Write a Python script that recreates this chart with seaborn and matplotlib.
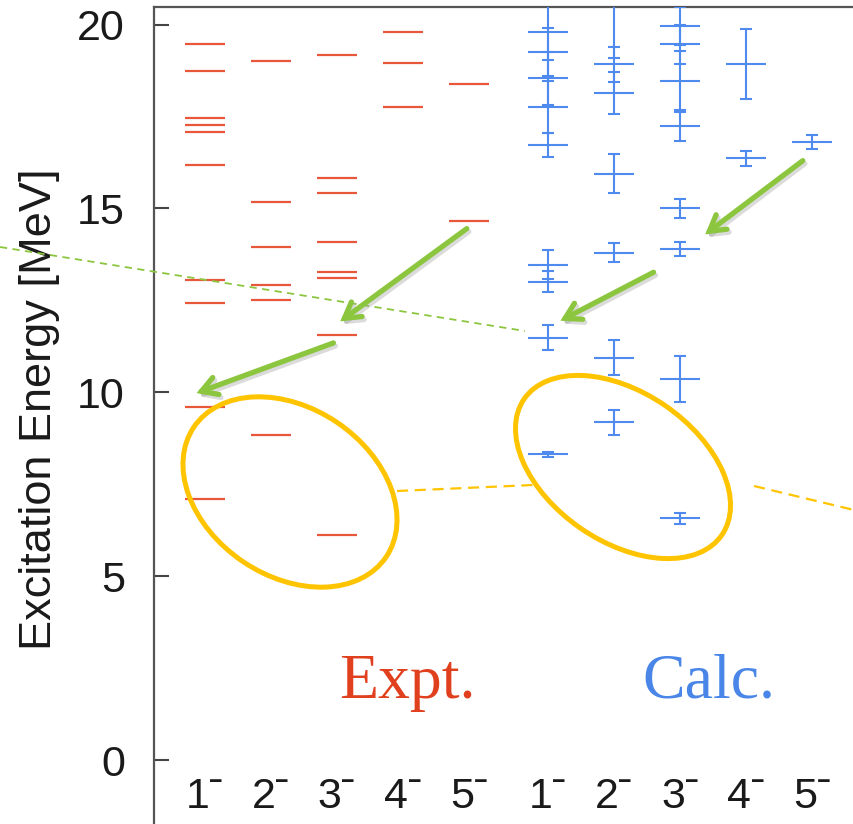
import numpy as np
import pandas as pd
import matplotlib
matplotlib.use("Agg")
import matplotlib.pyplot as plt
import seaborn as sns
from matplotlib.patches import Ellipse, FancyArrowPatch
from matplotlib.lines import Line2D
from matplotlib.transforms import Affine2D

# ---------------- data ----------------
spin_labels = ["1", "2", "3", "4", "5"]
tick_labels = [s + "\u02c9" for s in spin_labels] * 2

expt_pos = [1, 2, 3, 4, 5]
calc_pos = [6.2, 7.2, 8.2, 9.2, 10.2]

expt_1 = [19.47, 18.75, 17.47, 17.26, 17.07, 16.19, 13.06, 12.44, 9.59, 7.11]
expt_2 = [19.00, 15.17, 13.96, 12.93, 12.52, 8.84]
expt_3 = [19.17, 15.82, 15.42, 14.09, 13.27, 13.10, 11.57, 6.12]
expt_4 = [19.79, 18.96, 17.76]
expt_5 = [18.38, 14.67]

calc_1 = [19.79, 19.25, 18.54, 17.76, 16.73, 13.47, 13.01, 11.49, 8.31]
calc_1_err = [0.74, 0.65, 0.72, 0.71, 0.33, 0.39, 0.28, 0.33, 0.07]
calc_2 = [21.00, 18.92, 18.14, 15.95, 13.80, 10.94, 9.18]
calc_2_err = [1.91, 0.48, 0.56, 0.53, 0.26, 0.48, 0.34]
calc_3 = [19.96, 19.47, 18.47, 17.23, 15.00, 13.89, 10.37, 6.57]
calc_3_err = [0.52, 0.53, 0.80, 0.40, 0.27, 0.19, 0.62, 0.14]
calc_4 = [18.92, 16.36]
calc_4_err = [0.95, 0.20]
calc_5 = [16.81]
calc_5_err = [0.20]

expt_sets = [expt_1, expt_2, expt_3, expt_4, expt_5]
calc_sets = [calc_1, calc_2, calc_3, calc_4, calc_5]
calc_errs = [calc_1_err, calc_2_err, calc_3_err, calc_4_err, calc_5_err]

expt_df = pd.DataFrame({
    "x": np.concatenate([[p] * len(v) for p, v in zip(expt_pos, expt_sets)]),
    "E": np.concatenate(expt_sets),
})
calc_df = pd.DataFrame({
    "x": np.concatenate([[p] * len(v) for p, v in zip(calc_pos, calc_sets)]),
    "E": np.concatenate(calc_sets),
    "err": np.concatenate(calc_errs),
})

RED = "#E8573A"
BLUE = "#4F8AEE"
GREEN = "#8CC63F"
YELLOW = "#FFC400"

# ---------------- style ----------------
sns.set_theme(style="white")
plt.rcParams["font.family"] = ["Liberation Sans", "DejaVu Sans"]

W, H = 854, 824
fig = plt.figure(figsize=(W / 100, H / 100), dpi=100)
fig.patch.set_facecolor("white")
ax = fig.add_axes([154 / W, 0.0, 700 / W, 817 / H])

# Expt levels (horizontal ticks)
sns.scatterplot(data=expt_df, x="x", y="E", marker="_", s=870, linewidth=1.6,
                color=RED, ax=ax, legend=False, zorder=3)
# Calc levels with error bars
ax.errorbar(calc_df["x"], calc_df["E"], yerr=calc_df["err"], fmt="none",
            ecolor=BLUE, elinewidth=1.5, capsize=4.3, capthick=1.5, zorder=3)
sns.scatterplot(data=calc_df, x="x", y="E", marker="_", s=870, linewidth=1.5,
                color=BLUE, ax=ax, legend=False, zorder=3)

ax.set_xlim(0.2273, 1 + (854 - 205) / 66)
ax.set_ylim(-1.74, 20.48)
ax.set_yticks([0, 5, 10, 15, 20])
ax.set_xticks(expt_pos + calc_pos)
ax.set_xticklabels(tick_labels)
ax.tick_params(axis="y", direction="in", length=11, width=1.5, color="#444444",
               pad=21, labelsize=31, labelcolor="#1a1a1a", left=True, right=False)
ax.tick_params(axis="x", length=0, pad=-34, labelsize=31, labelcolor="#1a1a1a",
               top=False, bottom=True)
ax.set_xlabel("")
ax.set_ylabel("Excitation Energy [MeV]", fontsize=32.5, color="#1a1a1a")
ax.yaxis.set_label_coords(-0.134, 0.508)
for side in ["right", "bottom"]:
    ax.spines[side].set_visible(False)
for side in ["left", "top"]:
    ax.spines[side].set_color("#555555")
    ax.spines[side].set_linewidth(1.6)
ax.grid(False)

fig.text(407 / W, 1 - 698 / H, "Expt.", color="#E0401E", fontsize=46,
         family="Liberation Serif", ha="center", va="baseline")
fig.text(709 / W, 1 - 698 / H, "Calc.", color="#4A86E8", fontsize=46,
         family="Liberation Serif", ha="center", va="baseline")

# ---------------- annotations (pixel coords, origin top-left) ----------------
T = Affine2D().scale(0.01) + fig.dpi_scale_trans

def P(x, y):
    return (x, H - y)

def dashed(p1, p2, color, lw, dashes):
    (x1, y1), (x2, y2) = P(*p1), P(*p2)
    fig.add_artist(Line2D([x1, x2], [y1, y2], transform=T, color=color, lw=lw,
                          dashes=dashes, zorder=4))

dashed((0, 247), (525, 331), GREEN, 1.3, (4, 3))
dashed((397, 491), (533, 485), YELLOW, 1.6, (5, 3))
dashed((754, 486), (854, 510), YELLOW, 1.6, (5, 3))

for (cx, cy, w, h, ang) in [(290, 492, 232, 168, -34), (623, 467, 240, 149, -34.5)]:
    fig.add_artist(Ellipse(P(cx, cy), w, h, angle=ang, transform=T, fill=False,
                           edgecolor=YELLOW, lw=3.6, zorder=4))

arrows = [((469, 227), (338, 323)), ((336, 342), (194, 394)),
          ((805, 159), (703, 236)), ((656, 271), (558, 322))]
for a, b in arrows:
    sa = (a[0] + 2, a[1] + 3)
    sb = (b[0] + 2, b[1] + 3)
    fig.add_artist(FancyArrowPatch(P(*sa), P(*sb), transform=T,
                                   arrowstyle="->,head_length=11,head_width=6.5",
                                   color="#999999", alpha=0.35, lw=3.8,
                                   mutation_scale=1, zorder=5))
    fig.add_artist(FancyArrowPatch(P(*a), P(*b), transform=T,
                                   arrowstyle="->,head_length=11,head_width=6.5",
                                   color=GREEN, lw=3.8, mutation_scale=1,
                                   capstyle="round", joinstyle="miter", zorder=6))

fig.savefig("out.png", dpi=100, facecolor="white")
